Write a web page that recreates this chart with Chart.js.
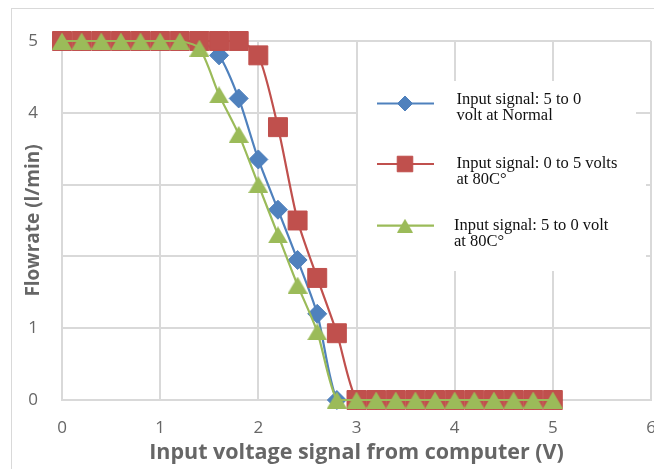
<!DOCTYPE html>
<html>
<head>
<meta charset="utf-8">
<script src="https://cdn.jsdelivr.net/npm/chart.js@4/dist/chart.umd.min.js"></script>
<style>
  html, body { margin: 0; padding: 0; background: #fff; overflow: hidden; width: 654px; height: 469px; }
  #wrap { position: relative; width: 654px; height: 469px; overflow: hidden; }
  #frame { position: absolute; left: 11px; top: 8px; width: 700px; height: 500px; border: 1px solid #d9d9d9; box-sizing: border-box; }
  canvas { position: absolute; left: 0; top: 0; }
</style>
</head>
<body>
<div id="wrap">
  <div id="frame"></div>
  <canvas id="c" width="656" height="469"></canvas>
</div>
<script>
// Input voltage (V) sent from the computer
const voltage = [0, 0.2, 0.4, 0.6, 0.8, 1.0, 1.2, 1.4, 1.6, 1.8, 2.0, 2.2, 2.4,
                 2.6, 2.8, 3.0, 3.2, 3.4, 3.6, 3.8, 4.0, 4.2, 4.4, 4.6, 4.8, 5.0];

// Flowrate (l/min) for each run
const flowNormalDown = [5, 5, 5, 5, 5, 5, 5, 5, 4.8, 4.2, 3.35, 2.65, 1.95,
                        1.2, 0, 0, 0, 0, 0, 0, 0, 0, 0, 0, 0, 0];
const flowHotUp      = [5, 5, 5, 5, 5, 5, 5, 5, 5, 5, 4.8, 3.8, 2.5,
                        1.7, 0.93, 0, 0, 0, 0, 0, 0, 0, 0, 0, 0, 0];
const flowHotDown    = [5, 5, 5, 5, 5, 5, 5, 4.9, 4.25, 3.7, 3.0, 2.3, 1.6,
                        0.95, 0, 0, 0, 0, 0, 0, 0, 0, 0, 0, 0, 0];

const seriesNames = [
  ['Input signal: 5 to 0', 'volt at Normal'],
  ['Input signal: 0 to 5 volts', 'at 80C\u00B0'],
  ['Input signal: 5 to 0 volt', 'at 80C\u00B0']
];

const xTickLabels = ['0', '1', '2', '3', '4', '5', '6'];
const yTickLabels = ['0', '1', '', '', '4', '5'];

const xTitle = 'Input voltage signal from computer (V)';
const yTitle = 'Flowrate (l/min)';

const BLUE = '#4F81BD', RED = '#C0504D', GREEN = '#9BBB59';
const GRID = '#d9d9d9', TEXT = '#666666';

const toPoints = (ys) => voltage.map((x, i) => ({ x: x, y: ys[i] }));

// Triangle marker centred on its bounding box
function triangleMarker(w, h, color) {
  const cv = document.createElement('canvas');
  cv.width = w;
  cv.height = h;
  const g = cv.getContext('2d');
  g.fillStyle = color;
  g.beginPath();
  g.moveTo(w / 2, 0);
  g.lineTo(w, h);
  g.lineTo(0, h);
  g.closePath();
  g.fill();
  return cv;
}

const series = [
  { data: flowNormalDown, color: BLUE,  style: 'rectRot', legendStyle: 'rectRot',
    radius: 9.5,  legendRadius: 7.5, order: 3 },
  { data: flowHotUp,      color: RED,   style: 'rect', legendStyle: 'rect',
    radius: 13.4, legendRadius: 11,  order: 2 },
  { data: flowHotDown,    color: GREEN, style: triangleMarker(20, 17, GREEN),
    legendStyle: triangleMarker(16, 14, GREEN), radius: 11, legendRadius: 9, order: 1 }
];

// Legend panel drawn inside the plot, on a white backdrop over the grid
const legendPanel = {
  id: 'legendPanel',
  beforeDatasetsDraw(chart) {
    const ctx = chart.ctx;
    ctx.save();
    ctx.fillStyle = '#ffffff';
    ctx.fillRect(358, 81, 278, 80);
    ctx.fillRect(358, 150, 288, 121);

    const rows = [
      { markerY: 103.5, baselines: [104, 120],     textX: 456.5 },
      { markerY: 164,   baselines: [168.3, 184.3], textX: 456.5 },
      { markerY: 225.7, baselines: [230, 245.7],   textX: 454 }
    ];
    rows.forEach((row, i) => {
      const s = series[i];
      ctx.strokeStyle = s.color;
      ctx.fillStyle = s.color;
      ctx.lineWidth = 2.2;
      ctx.beginPath();
      ctx.moveTo(377, row.markerY);
      ctx.lineTo(434, row.markerY);
      ctx.stroke();
      ctx.lineWidth = 1;
      Chart.helpers.drawPoint(ctx, {
        pointStyle: s.legendStyle, radius: s.legendRadius, rotation: 0, borderWidth: 1
      }, 405, row.markerY);

      ctx.fillStyle = '#111111';
      ctx.font = '16.5px "Liberation Serif", "Times New Roman", serif';
      ctx.textAlign = 'left';
      ctx.textBaseline = 'alphabetic';
      seriesNames[i].forEach((line, k) => ctx.fillText(line, row.textX, row.baselines[k]));
    });
    ctx.restore();
  }
};

new Chart(document.getElementById('c'), {
  type: 'line',
  data: {
    datasets: series.map((s, i) => ({
      label: seriesNames[i].join(' '),
      data: toPoints(s.data),
      borderColor: s.color,
      backgroundColor: s.color,
      borderWidth: 2.2,
      tension: 0.25,
      pointStyle: s.style,
      pointRadius: s.radius,
      pointBorderWidth: 1,
      pointBorderColor: s.color,
      pointBackgroundColor: s.color,
      order: s.order,
      clip: false,
      fill: false
    }))
  },
  options: {
    responsive: false,
    animation: false,
    layout: { autoPadding: false, padding: { left: 0, top: 41, right: 5, bottom: 0 } },
    plugins: {
      legend: { display: false },
      tooltip: { enabled: false }
    },
    scales: {
      x: {
        type: 'linear',
        min: 0,
        max: 6,
        afterFit(scale) {
          scale.height = 69;
          scale.paddingLeft = 0;
          scale.paddingRight = 5;
        },
        ticks: {
          stepSize: 1,
          padding: 0,
          color: TEXT,
          font: { family: '"Open Sans", sans-serif', size: 17 },
          callback: (v) => xTickLabels[v]
        },
        grid: { color: GRID, lineWidth: 2, drawTicks: true, tickLength: 18, tickColor: 'rgba(0,0,0,0)' },
        border: { color: GRID, width: 2 },
        title: {
          display: true,
          text: xTitle,
          color: TEXT,
          font: { family: '"Open Sans", sans-serif', size: 21.5, weight: 'bold' },
          padding: { top: 0, bottom: 2.8 }
        }
      },
      y: {
        type: 'linear',
        min: 0,
        max: 5,
        afterFit(scale) { scale.width = 62; },
        ticks: {
          stepSize: 1,
          padding: 0,
          color: TEXT,
          font: { family: '"Open Sans", sans-serif', size: 17 },
          callback: (v) => yTickLabels[v]
        },
        grid: { color: GRID, lineWidth: 2, drawTicks: true, tickLength: 24, tickColor: 'rgba(0,0,0,0)' },
        border: { color: GRID, width: 2 },
        title: {
          display: true,
          text: yTitle,
          color: TEXT,
          font: { family: '"Open Sans", sans-serif', size: 19, weight: 'bold' },
          padding: { top: 22.6, bottom: 0 }
        }
      }
    }
  },
  plugins: [legendPanel]
});
</script>
</body>
</html>
